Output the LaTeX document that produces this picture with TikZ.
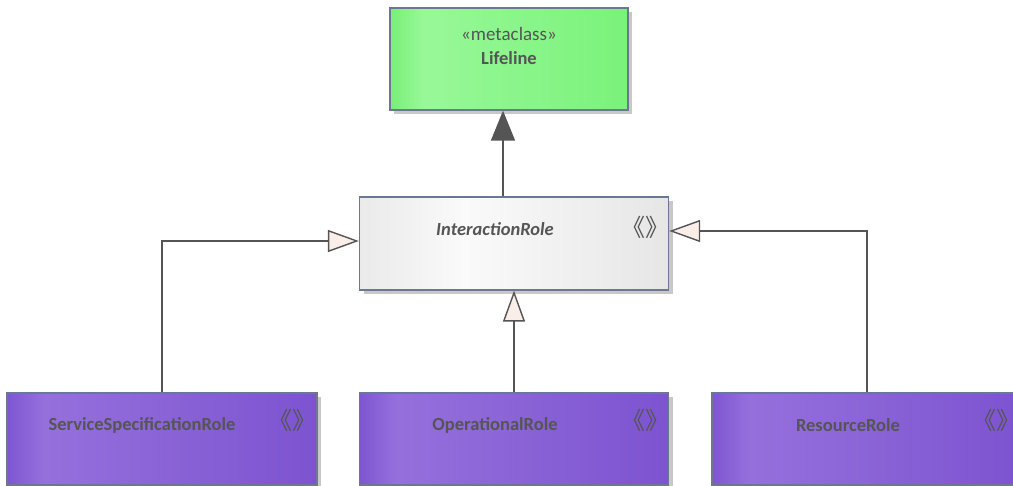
\documentclass[tikz,border=0pt]{standalone}
\usepackage{fontspec}
\setmainfont{Carlito}
\newfontfamily\cjkfont{Noto Sans CJK SC}
\usetikzlibrary{arrows.meta,calc,shadows}
\definecolor{txt}{HTML}{555555}
\definecolor{bord}{HTML}{6E7790}
\definecolor{linec}{HTML}{555555}
\definecolor{arrfill}{HTML}{FAEEE8}
\definecolor{shad}{HTML}{C8C8C8}
\definecolor{gA}{HTML}{78EE78}
\definecolor{gB}{HTML}{98F898}
\definecolor{gC}{HTML}{7AF27A}
\definecolor{pA}{HTML}{7E56D2}
\definecolor{pB}{HTML}{9570DC}
\definecolor{pC}{HTML}{7D53D0}
\definecolor{wA}{HTML}{EAEAEA}
\definecolor{wB}{HTML}{FAFAFA}
\definecolor{wC}{HTML}{E6E6E6}
\pgfdeclarehorizontalshading{greenband}{100bp}{color(0bp)=(gA); color(25bp)=(gA); color(32bp)=(gB); color(75bp)=(gC); color(100bp)=(gC)}
\pgfdeclarehorizontalshading{purpleband}{100bp}{color(0bp)=(pA); color(25bp)=(pA); color(31bp)=(pB); color(75bp)=(pC); color(100bp)=(pC)}
\pgfdeclarehorizontalshading{whiteband}{100bp}{color(0bp)=(wA); color(25bp)=(wA); color(42bp)=(wB); color(75bp)=(wC); color(100bp)=(wC)}
\newcommand{\stmark}{\makebox[26pt][c]{《》}}
\tikzset{
  box/.style={draw=bord, line width=1.3pt, rectangle, inner sep=0pt,
    drop shadow={shadow xshift=4pt, shadow yshift=-4pt, fill=shad, opacity=1}},
  greenbox/.style={box, shading=greenband},
  purplebox/.style={box, shading=purpleband},
  whitebox/.style={box, shading=whiteband},
  lbl/.style={text=txt, inner sep=0pt, font=\fontsize{18.5}{20}\selectfont\bfseries},
  stereo/.style={text=txt, inner sep=0pt, font=\fontsize{24}{26}\selectfont\cjkfont},
  conn/.style={draw=linec, line width=1.4pt},
  gen/.style={conn, -{Triangle[width=22pt,length=31pt,fill=arrfill,line width=1.4pt]}},
  genfill/.style={conn, -{Triangle[width=24pt,length=30pt,fill=linec,line width=1.4pt]}},
}
\begin{document}
\begin{tikzpicture}[x=1pt,y=-1pt]
\useasboundingbox (0,0) rectangle (1013,486);
\clip (0,0) rectangle (1013,486);
\node[greenbox, minimum width=238pt, minimum height=102pt] (life) at (509,59) {};
\node[whitebox, minimum width=309pt, minimum height=93pt] (inter) at (514,243.5) {};
\node[purplebox, minimum width=310pt, minimum height=92pt] (ssr) at (162,439) {};
\node[purplebox, minimum width=309pt, minimum height=92pt] (opr) at (514,439) {};
\node[purplebox, minimum width=310pt, minimum height=92pt] (res) at (867,439) {};

\node[text=txt, inner sep=0pt, font=\fontsize{19}{21}\selectfont] (lifest) at ($(life.north)+(0,27)$) {«metaclass»};
\node[lbl] (lifename) at ($(life.north)+(0,51)$) {Lifeline};
\node[lbl, font=\fontsize{18.5}{20}\selectfont\bfseries\itshape] (intername) at (495,229) {InteractionRole};
\node[stereo] (interst) at (645,227) {\stmark};
\node[lbl] (ssrname) at (142,425) {ServiceSpecificationRole};
\node[stereo] (ssrst) at (292,420) {\stmark};
\node[lbl] (oprname) at (495,425) {OperationalRole};
\node[stereo] (oprst) at (645,420) {\stmark};
\node[lbl] (resname) at (848,425) {ResourceRole};
\node[stereo] (resst) at (996,420) {\stmark};

\coordinate (liftop) at ([xshift=-11pt]inter.north |- life.south);
\draw[genfill] ([xshift=-11pt]inter.north) -- (liftop);
\draw[gen] (ssr.north) |- ([yshift=2.5pt]inter.west);
\draw[gen] (opr.north) -- (inter.south);
\draw[gen] (res.north) |- ([yshift=12.5pt]inter.east);
\end{tikzpicture}
\end{document}
